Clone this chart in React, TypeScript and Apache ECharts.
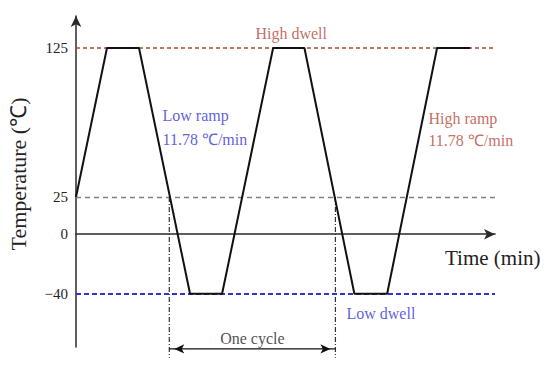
import React, { useEffect, useRef } from "react";
import * as echarts from "echarts";

// Temperature cycle profile (time in min, temperature in °C)
const cycleTimes = [0, 8.5, 17.3, 31.3, 40.1, 54.1, 62.7, 76.4, 85.4, 99.1, 108.2];
const cycleTemps = [25, 125, 125, -40, -40, 125, 125, -40, -40, 125, 125];

// Y axis tick labels shown
const yTickValues = [125, 25, 0, -40];

// Reference levels
const highTemp = 125;
const roomTemp = 25;
const lowTemp = -40;

// One-cycle bounds (min) and marker levels (°C)
const cycleBounds = [25.6, 71.2];
const cycleMarkTop = 25;
const cycleMarkBottom = -83;
const cycleArrowLevel = -77;

// Annotations
const annotationTexts = ["High dwell", "Low ramp", "11.78 ℃/min", "High ramp", "11.78 ℃/min", "Low dwell", "One cycle"];
const annotationTimes = [49.1, 23.6, 23.6, 96.6, 96.6, 74.1, 48.4];
const annotationTemps = [135, 79.4, 63.9, 77.5, 63.2, -52.9, -69.8];
const annotationColors = ["#b5473a", "#3535d8", "#3535d8", "#b5473a", "#b5473a", "#3535d8", "#222222"];
const annotationAnchors = ["right", "right", "right", "right", "right", "right", "inside"];

const FONT = "'Liberation Serif', 'Times New Roman', serif";

export default function App() {
  const ref = useRef<HTMLDivElement>(null);

  useEffect(() => {
    if (!ref.current) return;
    const chart = echarts.init(ref.current, undefined, { renderer: "svg" });

    const option: any = {
      animation: false,
      backgroundColor: "#ffffff",
      textStyle: { fontFamily: FONT },
      grid: { left: 76, right: 55, top: 16, bottom: 20, containLabel: false, outerBoundsMode: "none" },
      xAxis: {
        type: "value",
        min: 0,
        max: 115,
        axisLine: {
          show: true,
          onZero: true,
          symbol: ["none", "arrow"],
          symbolSize: [8, 11],
          lineStyle: { color: "#2a2a2a", width: 1.5 },
        },
        axisTick: { show: false },
        axisLabel: { show: false },
        splitLine: { show: false },
      },
      yAxis: {
        type: "value",
        min: -75.7,
        max: 146.5,
        axisLine: {
          show: true,
          symbol: ["none", "arrow"],
          symbolSize: [8, 11],
          lineStyle: { color: "#2a2a2a", width: 1.5 },
        },
        axisTick: { show: false },
        axisLabel: {
          show: true,
          customValues: yTickValues,
          margin: 8,
          fontFamily: FONT,
          fontSize: 15,
          color: "#222",
          formatter: (v: number) => String(v).replace("-", "−"),
        },
        splitLine: { show: false },
      },
      graphic: [
        {
          type: "text",
          left: 445,
          top: 247,
          style: { text: "Time (min)", font: `21px ${FONT}`, fill: "#222" },
        },
        {
          type: "text",
          x: 18,
          y: 174,
          rotation: Math.PI / 2,
          style: {
            text: "Temperature (℃)",
            font: `22px ${FONT}`,
            fill: "#222",
            align: "center",
            verticalAlign: "middle",
          },
        },
      ],
      series: [
        {
          name: "profile",
          type: "line",
          data: cycleTimes.map((t, i) => [t, cycleTemps[i]]),
          symbol: "none",
          clip: false,
          lineStyle: { color: "#111", width: 2 },
          z: 5,
          markLine: {
            silent: true,
            symbol: "none",
            label: { show: false },
            data: [
              { yAxis: highTemp, lineStyle: { color: "#b5472f", type: [4, 3], width: 1.6 } },
              { yAxis: roomTemp, lineStyle: { color: "#808080", type: [5, 4], width: 1.3 } },
              { yAxis: lowTemp, lineStyle: { color: "#3030d8", type: [5, 3], width: 2 } },
            ],
          },
        },
        ...cycleBounds.map((b) => ({
          type: "line",
          data: [
            [b, cycleMarkTop],
            [b, cycleMarkBottom],
          ],
          symbol: "none",
          clip: false,
          lineStyle: { color: "#333", width: 1.2, type: [5, 2, 1, 2] },
          z: 3,
        })),
        {
          type: "line",
          clip: false,
          z: 4,
          showSymbol: true,
          symbol: "arrow",
          symbolSize: [7, 10],
          itemStyle: { color: "#111" },
          lineStyle: { color: "#111", width: 1.2 },
          data: [
            { value: [cycleBounds[0], cycleArrowLevel], symbolRotate: 90, symbolOffset: [5, 0] },
            { value: [cycleBounds[1], cycleArrowLevel], symbolRotate: -90, symbolOffset: [-5, 0] },
          ],
        },
        {
          type: "scatter",
          symbolSize: 1,
          itemStyle: { color: "rgba(0,0,0,0)" },
          clip: false,
          z: 6,
          data: annotationTexts.map((txt, i) => ({
            value: [annotationTimes[i], annotationTemps[i]],
            label: {
              show: true,
              position: annotationAnchors[i],
              distance: 0,
              formatter: txt,
              fontFamily: FONT,
              fontSize: 16,
              color: annotationColors[i],
            },
          })),
        },
      ],
    };

    chart.setOption(option);
    return () => chart.dispose();
  }, []);

  return <div ref={ref} style={{ width: 550, height: 367, margin: -8 }} />;
}
